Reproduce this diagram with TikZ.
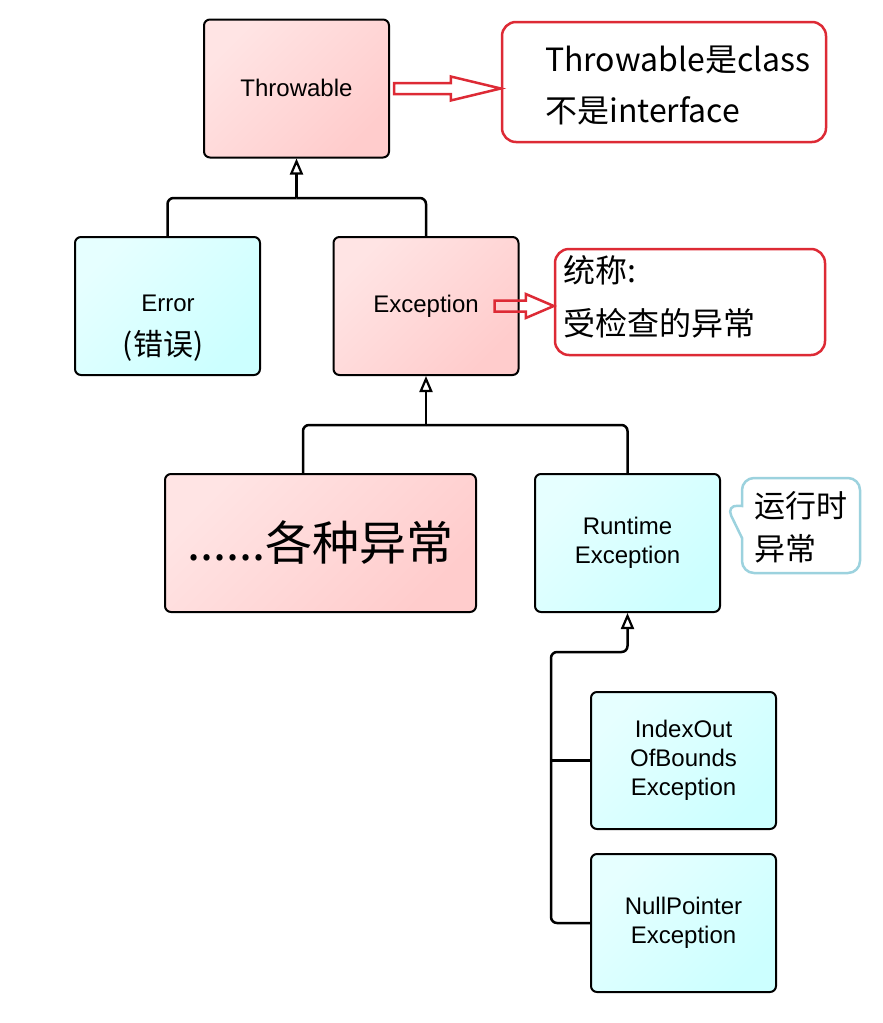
\documentclass[tikz,border=0pt]{standalone}
\usepackage{fontspec}
\setmainfont{Liberation Sans}
\newfontfamily\cjk{Noto Sans CJK SC}
\usetikzlibrary{arrows.meta,shapes.callouts,calc}
\definecolor{pinkA}{HTML}{FFE4E4}
\definecolor{pinkB}{HTML}{FFCCCC}
\definecolor{cyanA}{HTML}{E6FFFF}
\definecolor{cyanB}{HTML}{CCFFFF}
\definecolor{redline}{HTML}{DD2A35}
\definecolor{blueline}{HTML}{9CD2DE}
\newcommand\hollowarrow[3]{%
  \draw[hollow] let \p1=#1, \p2=#2 in
    (\x1,\y1+5.5) -- (\x2-#3,\y1+5.5) -- (\x2-#3,\y1+12) -- (\x2,\y1)
    -- (\x2-#3,\y1-12) -- (\x2-#3,\y1-5.5) -- (\x1,\y1-5.5) -- cycle;}
\begin{document}
\begin{tikzpicture}[x=1pt,y=-1pt,
  box/.style={draw=black, line width=2pt, rounded corners=6pt, minimum width=185pt,
    minimum height=138pt, align=center, inner sep=0pt,
    font=\fontsize{24}{29}\selectfont},
  pinkbox/.style={box, top color=pinkA, bottom color=pinkB, shading angle=45},
  cyanbox/.style={box, top color=cyanA, bottom color=cyanB, shading angle=45},
  note/.style={draw=redline, line width=2.5pt, rounded corners=14pt, fill=white},
  notetext/.style={anchor=west, inner sep=0pt, font=\cjk\fontsize{32}{32}\selectfont},
  link/.style={draw=black, line width=2.5pt, rounded corners=6pt},
  inh/.style={link, -{Triangle[open, length=16pt 0, width=13pt 0, line width=2.2pt]}},
  hollow/.style={draw=redline, line width=2.5pt, line join=miter},
]
\useasboundingbox (0,0) rectangle (883,1023);

% boxes
\node[pinkbox] (thr) at (296.5,88.5) {\raisebox{2pt}{Throwable}};
\node[cyanbox] (err) at (167.5,306) {};
\node[font=\fontsize{24}{29}\selectfont] (errtxt) at (168,303) {Error};
\node[font=\cjk\fontsize{30}{30}\selectfont] (errcn) at (163,346) {(错误)};
\node[pinkbox] (exc) at (426,306) {\raisebox{2pt}{Exception}};
\node[pinkbox, minimum width=311pt, font=\cjk\fontsize{47}{47}\selectfont] (var) at (320.5,543) {......各种异常};
\node[cyanbox] (rt) at (627.5,543) {Runtime\\Exception};
\node[cyanbox, minimum height=137pt] (idx) at (683.5,760.5) {IndexOut\\OfBounds\\Exception};
\node[cyanbox] (np) at (683.5,923) {NullPointer\\Exception};

% notes
\node[note, minimum width=324pt, minimum height=120pt] (c1) at (664,82) {};
\node[notetext] (c1a) at (545,60) {Throwable是class};
\node[notetext] (c1b) at (545,111) {不是interface};
\node[note, minimum width=270pt, minimum height=106pt] (c2) at (690,302) {};
\node[notetext] (c2a) at (563,270) {统称:};
\node[notetext] (c2b) at (563,323) {受检查的异常};
\node[rectangle callout, draw=blueline, line width=2.5pt, rounded corners=12pt,
  fill=white, minimum width=118pt, minimum height=95pt,
  callout absolute pointer={($(rt.east)+(5,-38)$)}, callout pointer width=32pt]
  (c3) at (801,525.5) {};
\node[notetext, font=\cjk\fontsize{31}{31}\selectfont] (c3a) at (754,506) {运行时};
\node[notetext, font=\cjk\fontsize{31}{31}\selectfont] (c3b) at (754,549) {异常};

% hollow arrows
\hollowarrow{($(thr.east)+(4,0)$)}{(c1.west)}{50}
\hollowarrow{($(exc.east)+(-25,0)$)}{(c2.west)}{28}

% inheritance connectors
\coordinate (j1) at (296.5,198);
\draw[link] (err.north) |- (j1);
\draw[link] (exc.north) |- (j1);
\draw[inh] (j1) -- (thr.south);

\coordinate (j2) at (426,425);
\draw[link] ($(var.north)+(-17.5,0)$) |- (j2);
\draw[link] (rt.north) |- (j2);
\draw[inh] (j2) -- (exc.south);

\coordinate (j3) at (551,652);
\draw[inh] (np.west) -| (j3) -| (rt.south);
\draw[link] (idx.west) -- ++(-40,0);
\end{tikzpicture}
\end{document}
